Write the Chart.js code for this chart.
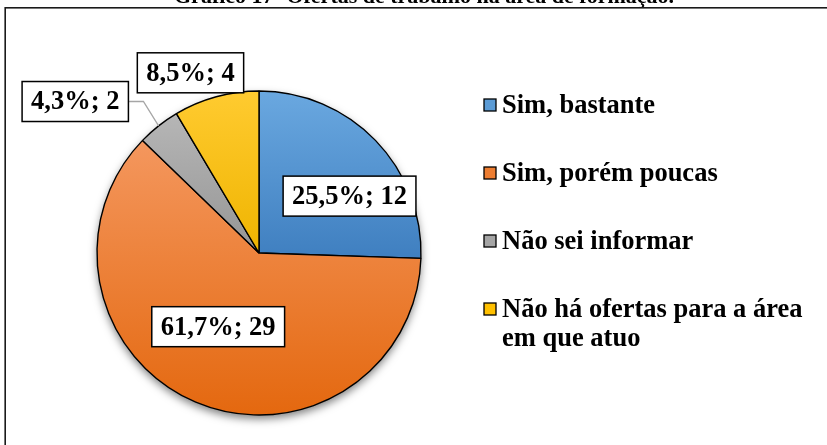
<!DOCTYPE html>
<html>
<head>
<meta charset="utf-8">
<script src="https://cdn.jsdelivr.net/npm/chart.js@4/dist/chart.umd.min.js"></script>
<style>
    html, body { margin: 0; padding: 0; background: #fff; }
    #wrap { width: 827px; height: 445px; position: relative; overflow: hidden; }
</style>
</head>
<body>
<div id="wrap"><canvas id="chart" width="827" height="445"></canvas></div>
<script>
const TITLE = 'Gráfico 17- Ofertas de trabalho na área de formação.'
const LABELS = ['Sim, bastante', 'Sim, porém poucas', 'Não sei informar', 'Não há ofertas para a área em que atuo']
const COUNTS = [12, 29, 2, 4]
const COLORS_TOP = ['#6aa8e0', '#f4975e', '#b6b6b6', '#ffcb30']
const COLORS_BOTTOM = ['#3f7fc0', '#e4680f', '#959595', '#efb400']
const LEGEND_COLORS = ['#5b9bd5', '#ed7d31', '#a5a5a5', '#ffc000']
// label placement around each slice: [radius factor, angle offset in degrees]
const LABEL_POS = [[0.66, 11.9], [0.52, 6], [1.47, -12.2], [1.19, -5.5]]

const RADIUS = 162
const FONT = 'bold 26.5px "Liberation Serif", "Times New Roman", serif'
const TOTAL = COUNTS.reduce((a, b) => a + b, 0)

function pct_text(i) {
    return (COUNTS[i] / TOTAL * 100).toFixed(1).replace('.', ',') + '%; ' + COUNTS[i]
}

function slice_angles(i) {
    let start = -Math.PI / 2
    for (let k = 0; k < i; k++) start += COUNTS[k] / TOTAL * 2 * Math.PI
    return [start, start + COUNTS[i] / TOTAL * 2 * Math.PI]
}

function slice_gradient(context) {
    let chart = context.chart
    let area = chart.chartArea
    let i = context.dataIndex
    if (!area) return COLORS_TOP[i]
    let cy = (area.top + area.bottom) / 2
    let [start, end] = slice_angles(i)
    let ys = [cy, cy + RADIUS * Math.sin(start), cy + RADIUS * Math.sin(end)]
    for (let a of [-Math.PI / 2, Math.PI / 2, 3 * Math.PI / 2]) {
        if (a >= start && a <= end) ys.push(cy + RADIUS * Math.sin(a))
    }
    let g = chart.ctx.createLinearGradient(0, Math.min(...ys), 0, Math.max(...ys))
    g.addColorStop(0, COLORS_TOP[i])
    g.addColorStop(1, COLORS_BOTTOM[i])
    return g
}

function wrap_text(ctx, text, max_width) {
    let words = text.split(' ')
    let lines = []
    let line = ''
    words.forEach(w => {
        let test = line ? line + ' ' + w : w
        if (ctx.measureText(test).width > max_width && line) {
            lines.push(line)
            line = w
        } else {
            line = test
        }
    })
    lines.push(line)
    return lines
}

const frame_plugin = {
    id: 'frame',
    beforeDraw(chart) {
        let ctx = chart.ctx
        ctx.save()
        ctx.fillStyle = '#000'
        ctx.font = 'bold 22px "Liberation Serif", "Times New Roman", serif'
        ctx.textAlign = 'center'
        ctx.textBaseline = 'alphabetic'
        ctx.fillText(TITLE, 424, 3)
        ctx.strokeStyle = '#1a1a1a'
        ctx.lineWidth = 1.6
        ctx.strokeRect(5.2, 7.8, 1000, 1000)
        ctx.restore()
    },
    beforeDatasetsDraw(chart) {
        let ctx = chart.ctx
        let arc = chart.getDatasetMeta(0).data[0]
        ctx.save()
        ctx.shadowColor = 'rgba(0,0,0,0.5)'
        ctx.shadowBlur = 8
        ctx.shadowOffsetY = 4
        ctx.fillStyle = '#fff'
        ctx.beginPath()
        ctx.arc(arc.x, arc.y, arc.outerRadius, 0, Math.PI * 2)
        ctx.fill()
        ctx.restore()
    },
    afterDatasetsDraw(chart) {
        let ctx = chart.ctx
        let arcs = chart.getDatasetMeta(0).data
        ctx.save()
        ctx.font = FONT
        ctx.textAlign = 'center'
        ctx.textBaseline = 'middle'
        arcs.forEach((arc, i) => {
            let mid = (arc.startAngle + arc.endAngle) / 2
            let [k, off] = LABEL_POS[i]
            let a = mid + off * Math.PI / 180
            let lx = arc.x + Math.cos(a) * arc.outerRadius * k
            let ly = arc.y + Math.sin(a) * arc.outerRadius * k
            let text = pct_text(i)
            let w = ctx.measureText(text).width + 18
            let h = 40
            if (k > 1.3) {
                // leader line to the slice
                ctx.strokeStyle = '#a6a6a6'
                ctx.lineWidth = 1.3
                ctx.beginPath()
                ctx.moveTo(lx + w / 2, ly)
                ctx.lineTo(lx + w / 2 + 15, ly)
                ctx.lineTo(arc.x + Math.cos(mid) * arc.outerRadius, arc.y + Math.sin(mid) * arc.outerRadius)
                ctx.stroke()
            }
            ctx.fillStyle = '#fff'
            ctx.fillRect(lx - w / 2, ly - h / 2, w, h)
            ctx.strokeStyle = '#000'
            ctx.lineWidth = 1.5
            ctx.strokeRect(lx - w / 2, ly - h / 2, w, h)
            ctx.fillStyle = '#000'
            ctx.fillText(text, lx, ly + 1)
        })

        // legend
        ctx.textAlign = 'left'
        let y = 105
        LABELS.forEach((label, i) => {
            ctx.fillStyle = LEGEND_COLORS[i]
            ctx.fillRect(484, y - 6, 12, 12)
            ctx.strokeStyle = '#000'
            ctx.lineWidth = 1.3
            ctx.strokeRect(484, y - 6, 12, 12)
            ctx.fillStyle = '#000'
            let lines = wrap_text(ctx, label, 320)
            lines.forEach((ln, j) => ctx.fillText(ln, 502, y + 1 + j * 29))
            y += 68
        })
        ctx.restore()
    }
}

new Chart(document.getElementById('chart').getContext('2d'), {
    'type': 'pie',
    'data': {
        'labels': LABELS,
        'datasets': [{
            'data': COUNTS,
            'backgroundColor': slice_gradient,
            'borderColor': '#000',
            'borderWidth': 1.4,
            'radius': RADIUS
        }]
    },
    'options': {
        'responsive': false,
        'animation': false,
        'layout': {
            'padding': {'left': 97, 'right': 406, 'top': 91, 'bottom': 30}
        },
        'plugins': {
            'legend': {'display': false},
            'tooltip': {'enabled': false}
        }
    },
    'plugins': [frame_plugin]
})
</script>
</body>
</html>
